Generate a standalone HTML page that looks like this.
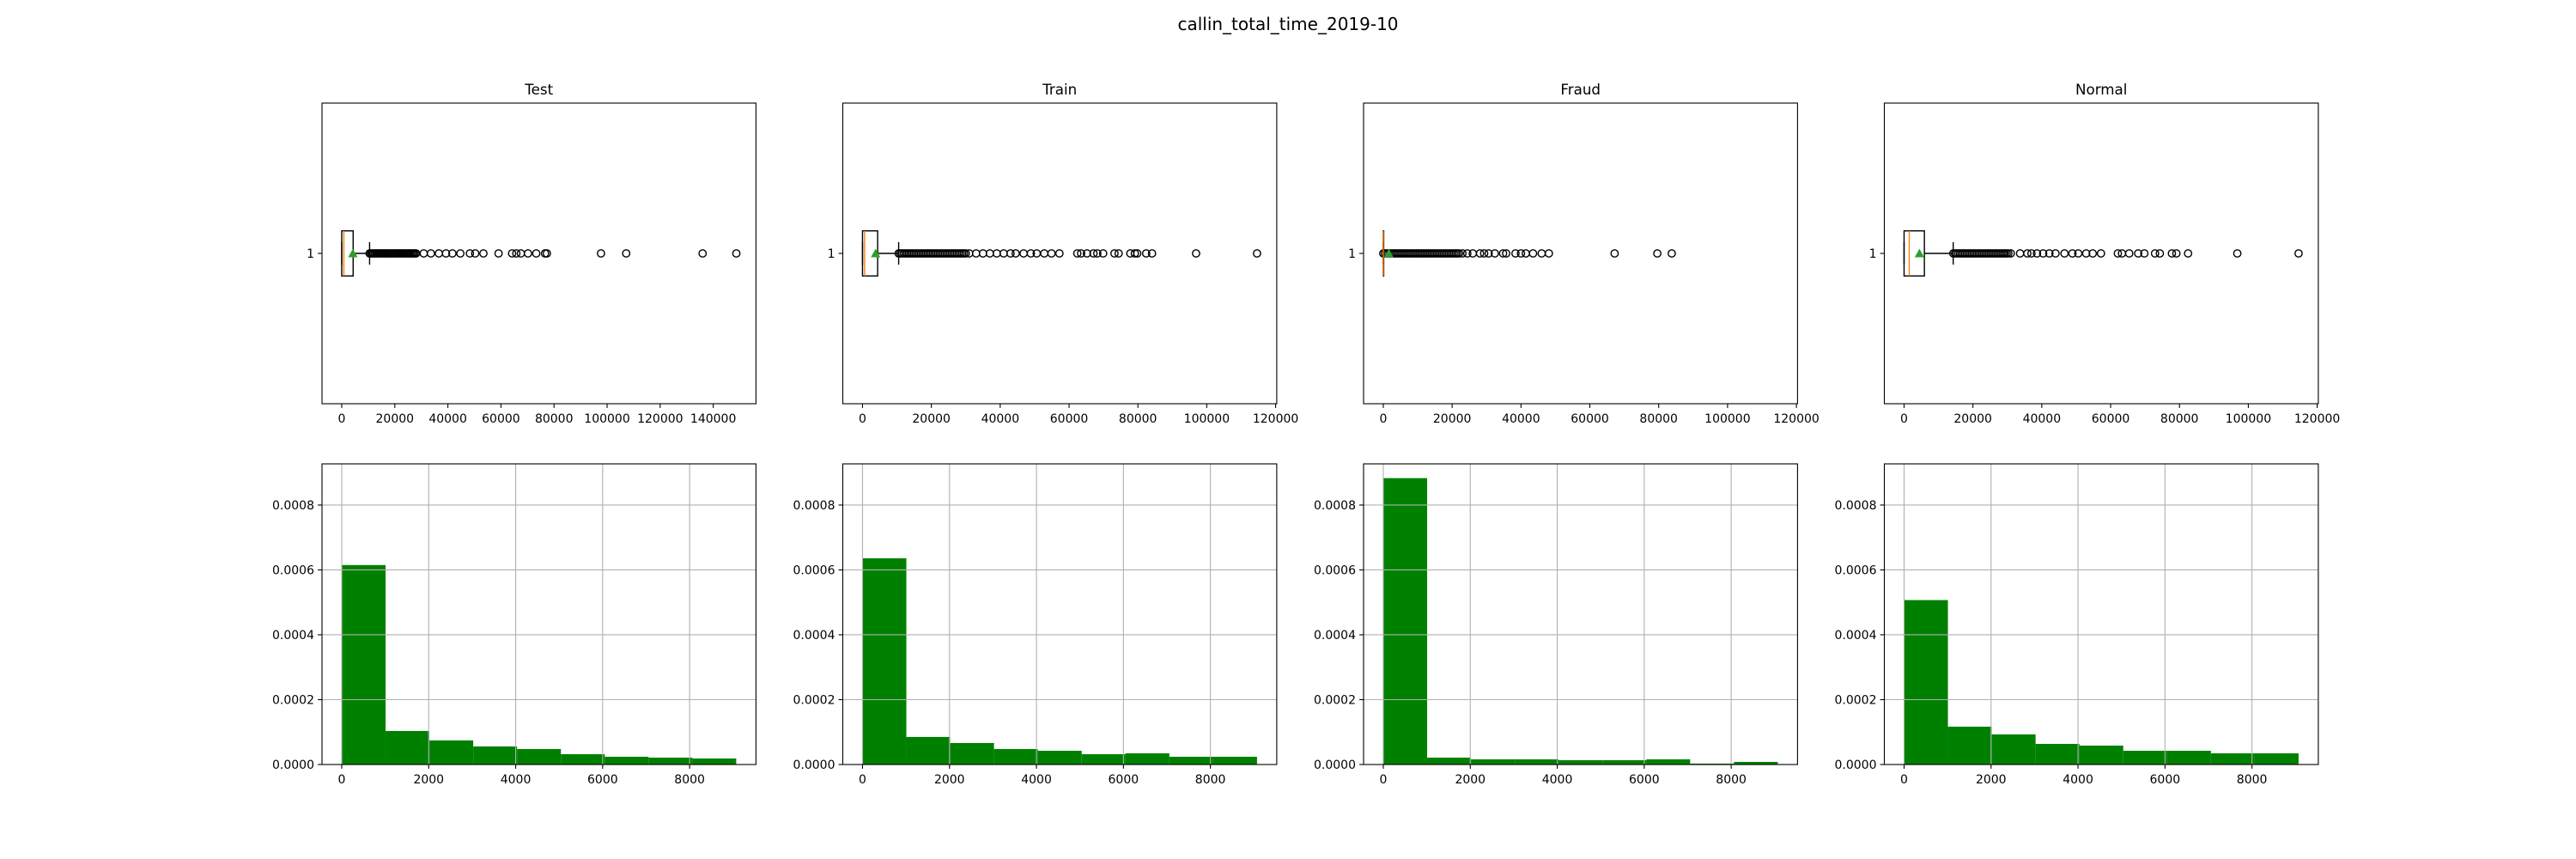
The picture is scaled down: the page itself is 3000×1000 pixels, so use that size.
<!DOCTYPE html>
<html><head><meta charset="utf-8">
<style>
html,body{margin:0;padding:0;background:#fff;}
svg{display:block;font-family:"DejaVu Sans","Liberation Sans",sans-serif;}
</style></head>
<body>
<svg id="fig" width="3000" height="1000" viewBox="0 0 3000 1000" xmlns="http://www.w3.org/2000/svg">
<rect x="0" y="0" width="3000" height="1000" fill="#fff"/>
<text x="1500" y="35" font-size="20" text-anchor="middle">callin_total_time_2019-10</text>
</svg>
<script>
// ---- data ----
const panelTitles = ["Test", "Train", "Fraud", "Normal"];
const boxMedian = [800, 600, 0, 1500];
const boxQ1 = [0, 0, 0, 0];
const boxQ3 = [4300, 4400, 0, 5900];
const boxMean = [4200, 3800, 1600, 4460];
const whiskerLow = [0, 0, 0, 0];
const whiskerHigh = [10500, 10500, 0, 14270];
const outliersTest = [10500,11000,11500,12000,12500,13000,13500,14000,14500,15000,15500,16000,16500,17000,17500,18000,18500,19000,19500,20000,20500,21000,21500,22000,22500,23000,23500,24000,24500,25000,25500,26000,26500,27000,27500,28000,30900,33600,36600,39300,41700,44700,48300,50300,53400,59100,64200,65800,67500,70200,73300,76600,77300,97700,107200,136000,148700];
const outliersTrain = [10500,11000,11500,12000,12500,13000,13500,14000,14500,15000,15500,16000,16500,17000,17500,18000,18500,19000,19500,20000,20500,21000,21500,22000,22500,23000,23500,24000,24500,25000,25500,26000,26500,27000,27500,28000,28500,29000,29500,30000,31000,33000,35000,37000,39000,41000,43000,44500,46800,48900,50600,52800,54900,57200,62400,63500,65200,67100,68200,69900,73200,74400,77800,79100,79800,82400,84100,96900,114600];
const outliersFraud = [0,500,1000,1500,2000,2500,3000,3500,4000,4500,5000,5500,6000,6500,7000,7500,8000,8500,9000,9500,10000,10500,11000,11500,12000,12500,13000,13500,14000,14500,15000,15500,16000,16500,17000,17500,18000,18500,19000,19500,20000,20500,21000,21500,22000,23000,24400,26000,28100,29300,30600,32400,34800,35700,38400,40000,41400,43500,46000,48100,67200,79600,83800];
const outliersNormal = [14300,14800,15300,15800,16300,16800,17300,17800,18300,18800,19300,19800,20300,20800,21300,21800,22300,22800,23300,23800,24300,24800,25300,25800,26300,26800,27300,27800,28300,28800,29300,29800,30300,31000,33700,35800,37000,38600,40400,42200,44000,46600,48900,50600,52900,54800,57200,62100,63300,65400,68000,69800,72900,74300,77800,79100,82500,96800,114600];
const boxOutliers = [outliersTest, outliersTrain, outliersFraud, outliersNormal];
const boxXRange = [[-7435, 156100], [-5730, 120330], [-5730, 120330], [-5730, 120330]];
const boxTicksTest = [0,20000,40000,60000,80000,100000,120000,140000];
const boxTicksShared = [0,20000,40000,60000,80000,100000,120000];
const boxTicks = [boxTicksTest, boxTicksShared, boxTicksShared, boxTicksShared];

const binEdges = [0,1008,2016,3024,4032,5040,6048,7056,8064,9072];
const histTest = [0.000615,0.0001034,0.0000743,0.0000557,0.0000477,0.0000318,0.0000239,0.0000212,0.0000186];
const histTrain = [0.000636,0.0000849,0.0000663,0.0000477,0.0000424,0.0000318,0.0000345,0.0000239,0.0000239];
const histFraud = [0.000883,0.0000212,0.0000159,0.0000159,0.0000133,0.0000133,0.0000159,0.0000027,0.000008];
const histNormal = [0.000507,0.0001167,0.0000928,0.0000636,0.0000583,0.0000424,0.0000424,0.0000345,0.0000345];
const histValues = [histTest, histTrain, histFraud, histNormal];
const histXTicks = [0,2000,4000,6000,8000];
const histYTicks = [0,0.0002,0.0004,0.0006,0.0008];
const histYTickLabels = ["0.0000","0.0002","0.0004","0.0006","0.0008"];
const histXRange = [-454, 9526];
const histYRange = [0, 0.000927];

// ---- layout ----
const NS = "http://www.w3.org/2000/svg";
const svg = document.getElementById("fig");
const axLeft = [375, 981.5, 1588, 2194.5];
const axW = 505.4;
const topY0 = 120, topY1 = 470, botY0 = 540, botY1 = 890;
const FS = 14;

function mk(tag, attrs, parent) {
  const e = document.createElementNS(NS, tag);
  for (const k in attrs) e.setAttribute(k, attrs[k]);
  (parent || svg).appendChild(e);
  return e;
}
function linScale(d0, d1, r0, r1) { return v => r0 + (v - d0) / (d1 - d0) * (r1 - r0); }

for (let p = 0; p < 4; p++) {
  const L = axLeft[p], R = L + axW;
  // ===== box panel =====
  const g = mk("g", {});
  
  
  const xs = linScale(boxXRange[p][0], boxXRange[p][1], L, R);
  const ys = linScale(0.5, 1.5, topY1, topY0);
  const t = mk("text", {x: (L + R) / 2, y: topY0 - 10, "font-size": 16.7, "text-anchor": "middle"}, g);
  t.textContent = panelTitles[p];
  
  
  const cy = ys(1), hb = ys(1) - ys(1.075), hc = hb / 2;
  mk("line", {x1: xs(whiskerLow[p]), x2: xs(boxQ1[p]), y1: cy, y2: cy, stroke: "#000", "stroke-width": 1.4}, g);
  mk("line", {x1: xs(boxQ3[p]), x2: xs(whiskerHigh[p]), y1: cy, y2: cy, stroke: "#000", "stroke-width": 1.4}, g);
  mk("line", {x1: xs(whiskerLow[p]), x2: xs(whiskerLow[p]), y1: cy - hc, y2: cy + hc, stroke: "#000", "stroke-width": 1.4}, g);
  mk("line", {x1: xs(whiskerHigh[p]), x2: xs(whiskerHigh[p]), y1: cy - hc, y2: cy + hc, stroke: "#000", "stroke-width": 1.4}, g);
  const box = mk("rect", {x: xs(boxQ1[p]), y: cy - hb, width: Math.max(0.5, xs(boxQ3[p]) - xs(boxQ1[p])), height: 2 * hb, fill: "none", stroke: "#000", "stroke-width": 1.4}, g);
  
  
  for (const v of boxOutliers[p]) {
    const c = mk("circle", {cx: xs(v), cy: cy, r: 4.2, fill: "none", stroke: "#000", "stroke-width": 1.4}, g);
    
    
  }
  const med = mk("line", {x1: xs(boxMedian[p]), x2: xs(boxMedian[p]), y1: cy - hb, y2: cy + hb, stroke: "#ff7f0e", "stroke-width": 1.4}, g);
  
  
  const mx = xs(boxMean[p]);
  const tri = mk("polygon", {points: `${mx},${cy - 5.5} ${mx - 5.5},${cy + 4.5} ${mx + 5.5},${cy + 4.5}`, fill: "#2ca02c"}, g);
  
  
  mk("rect", {x: L, y: topY0, width: axW, height: topY1 - topY0, fill: "none", stroke: "#000", "stroke-width": 1.1}, g);
  mk("line", {x1: L - 4.9, x2: L, y1: cy, y2: cy, stroke: "#000", "stroke-width": 1.1}, g);
  const yl = mk("text", {x: L - 9, y: cy + 5, "font-size": FS, "text-anchor": "end"}, g);
  yl.textContent = "1";
  
  
  for (const tv of boxTicks[p]) {
    const x = xs(tv);
    mk("line", {x1: x, x2: x, y1: topY1, y2: topY1 + 4.9, stroke: "#000", "stroke-width": 1.1}, g);
    const tl = mk("text", {x: x, y: topY1 + 22, "font-size": FS, "text-anchor": "middle"}, g);
    tl.textContent = String(tv);
    
    
  }

  // ===== histogram panel =====
  const h = mk("g", {});
  
  
  const hx = linScale(histXRange[0], histXRange[1], L, R);
  const hy = linScale(histYRange[0], histYRange[1], botY1, botY0);
  const vals = histValues[p];
  for (let i = 0; i < vals.length; i++) {
    const x0 = hx(binEdges[i]), x1 = hx(binEdges[i + 1]);
    const b = mk("rect", {x: x0, y: hy(vals[i]), width: x1 - x0, height: botY1 - hy(vals[i]), fill: "#008000"}, h);
    
    
  }
  for (const tv of histXTicks) {
    const x = hx(tv);
    mk("line", {x1: x, x2: x, y1: botY0, y2: botY1, stroke: "#b0b0b0", "stroke-width": 1.1}, h);
    mk("line", {x1: x, x2: x, y1: botY1, y2: botY1 + 4.9, stroke: "#000", "stroke-width": 1.1}, h);
    const tl = mk("text", {x: x, y: botY1 + 22, "font-size": FS, "text-anchor": "middle"}, h);
    tl.textContent = String(tv);
    
    
  }
  for (let i = 0; i < histYTicks.length; i++) {
    const y = hy(histYTicks[i]);
    mk("line", {x1: L, x2: R, y1: y, y2: y, stroke: "#b0b0b0", "stroke-width": 1.1}, h);
    mk("line", {x1: L - 4.9, x2: L, y1: y, y2: y, stroke: "#000", "stroke-width": 1.1}, h);
    const tl = mk("text", {x: L - 9, y: y + 5, "font-size": FS, "text-anchor": "end"}, h);
    tl.textContent = histYTickLabels[i];
    
    
  }
  mk("rect", {x: L, y: botY0, width: axW, height: botY1 - botY0, fill: "none", stroke: "#000", "stroke-width": 1.1}, h);
}
</script>
</body></html>
